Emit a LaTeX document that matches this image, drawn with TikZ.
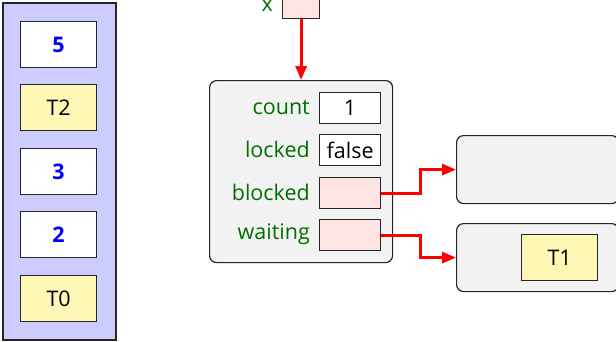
\documentclass[tikz,border=0pt]{standalone}
\usepackage{fontspec}
\setmainfont{Open Sans}
\usetikzlibrary{arrows.meta}
\definecolor{lav}{RGB}{204,204,255}
\definecolor{cellyellow}{RGB}{255,247,181}
\definecolor{objgray}{RGB}{242,242,242}
\definecolor{ptrpink}{RGB}{255,228,228}
\definecolor{fieldgreen}{RGB}{0,110,0}
\definecolor{ptrred}{RGB}{255,0,0}
\tikzset{
  txt/.style={font=\fontsize{21.5}{24}\selectfont},
  cell/.style={draw=black!85, line width=1.2pt, minimum width=76pt, minimum height=46pt, inner sep=0pt, anchor=north west, txt},
  numcell/.style={cell, fill=white, text=blue},
  thrcell/.style={cell, fill=cellyellow},
  valbox/.style={draw=black!85, line width=1.2pt, fill=white, minimum width=61pt, minimum height=31pt, inner sep=0pt, anchor=north west, txt},
  ptrbox/.style={valbox, fill=ptrpink},
  flabel/.style={anchor=east, text=fieldgreen, inner sep=0pt, txt},
  obj/.style={draw=black!85, line width=1.2pt, fill=objgray, rounded corners=7pt, inner sep=0pt, anchor=north west},
  ptr/.style={draw=ptrred, line width=3pt, -{Triangle[length=14pt,width=11pt]}}
}
\begin{document}
\begin{tikzpicture}[x=1pt,y=-1pt]
\useasboundingbox (0,0) rectangle (616,341);
\clip (0,0) rectangle (616,341);
% stack panel
\node[draw=black!85, line width=1.6pt, fill=lav, minimum width=113pt, minimum height=337pt, inner sep=0pt, anchor=north west] (stack) at (2,2) {};
\node[numcell] (s5) at (20,21) {\textbf{5}};
\node[thrcell] (sT2) at (20,84) {T2};
\node[numcell] (s3) at (20,148) {\textbf{3}};
\node[numcell] (s2) at (20,211) {\textbf{2}};
\node[thrcell] (sT0) at (20,275) {T0};
% variable x
\node[ptrbox, minimum width=37pt, minimum height=31pt] (xbox) at (282,-13) {};
\node[flabel] (xlab) at (273,5.5) {x};
% main object
\node[obj, minimum width=183pt, minimum height=182pt] (lock) at (209,80) {};
\node[valbox] (count) at (319,92) {1};
\node[valbox] (locked) at (319,134) {false};
\node[ptrbox] (blocked) at (319,177) {};
\node[ptrbox] (waiting) at (319,219) {};
\node[flabel] (lcount) at (310,107.5) {count};
\node[flabel] (llocked) at (310,149.5) {locked};
\node[flabel] (lblocked) at (310,192.5) {blocked};
\node[flabel] (lwaiting) at (310,234.5) {waiting};
% queues
\node[obj, minimum width=162pt, minimum height=68pt] (bq) at (456,135) {};
\node[obj, minimum width=162pt, minimum height=68pt] (wq) at (456,223) {};
\node[thrcell] (sT1) at (521,234) {T1};
% pointers
\draw[ptr] (xbox.south) -- (lock.north -| xbox.south);
\draw[ptr] (blocked.east) -- ++(39,0) |- (bq.west);
\draw[ptr] (waiting.east) -- ++(39,0) |- (wq.west);
\end{tikzpicture}
\end{document}
